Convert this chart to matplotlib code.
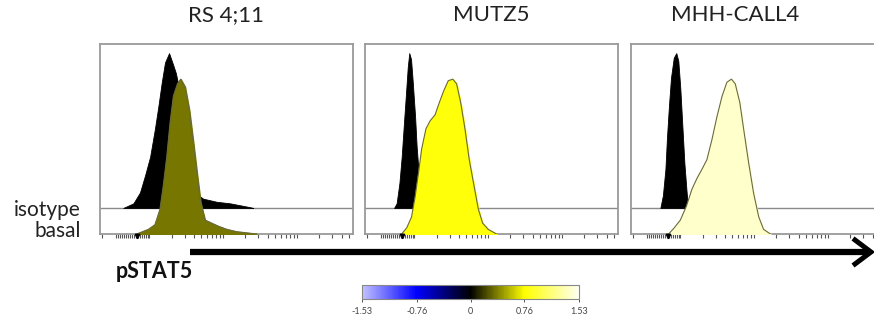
import numpy as np
import matplotlib
matplotlib.use("Agg")
import matplotlib.pyplot as plt
from matplotlib.colors import LinearSegmentedColormap, Normalize
from matplotlib.cm import ScalarMappable
from matplotlib.lines import Line2D

plt.rcParams['font.family'] = ['Lato', 'DejaVu Sans']

# ---- data: pSTAT5 histograms (channel 0-1000, counts as % of mode) ----
cell_lines = ["RS 4;11", "MUTZ5", "MHH-CALL4"]

iso_rs_ch = [92, 132, 158, 178, 198, 217, 231, 244, 257, 273, 290, 300, 310, 323, 343, 362, 382, 408, 461, 514, 593, 606]
iso_rs_pct = [0, 3, 10, 21, 33, 51, 66, 81, 94, 100, 92, 87, 79, 59, 36, 18, 9, 6, 4, 3, 0.5, 0]
bas_rs_ch = [145, 191, 217, 237, 250, 264, 277, 290, 306, 319, 336, 353, 369, 385, 398, 415, 441, 468, 501, 540, 619]
bas_rs_pct = [0, 3, 6, 16, 31, 50, 72, 89, 97, 100, 95, 80, 59, 37, 20, 9, 7, 5, 3, 1.5, 0]

iso_mu_ch = [115, 125, 136, 145, 154, 162, 169, 175, 182, 188, 198, 204, 211, 220, 231]
iso_mu_pct = [0, 3, 16, 33, 55, 74, 91, 100, 96, 83, 59, 40, 25, 10, 0]
bas_mu_ch = [145, 165, 184, 198, 211, 224, 241, 257, 277, 294, 310, 329, 347, 362, 378, 395, 412, 431, 448, 465, 487, 520]
bas_mu_pct = [0, 4, 11, 24, 39, 55, 68, 73, 77, 85, 92, 99, 100, 97, 85, 68, 48, 31, 16, 7, 3, 0]

iso_mh_ch = [116, 126, 136, 142, 150, 158, 169, 179, 187, 195, 203, 211, 219, 225]
iso_mh_pct = [0, 8, 25, 45, 66, 84, 97, 100, 95, 77, 53, 29, 12, 0]
bas_mh_ch = [149, 171, 195, 219, 241, 261, 281, 300, 320, 340, 360, 379, 397, 412, 430, 445, 465, 485, 505, 524, 551]
bas_mh_pct = [0, 4, 9, 18, 29, 36, 42, 48, 61, 76, 89, 98, 100, 97, 85, 68, 46, 26, 11, 3, 0]

isotype = [(iso_rs_ch, iso_rs_pct), (iso_mu_ch, iso_mu_pct), (iso_mh_ch, iso_mh_pct)]
basal = [(bas_rs_ch, bas_rs_pct), (bas_mu_ch, bas_mu_pct), (bas_mh_ch, bas_mh_pct)]

# fold change of basal pSTAT5 (colour scale values)
fold_change = [0.35, 0.80, 1.40]
cbar_ticks = [-1.53, -0.76, 0, 0.76, 1.53]

heat = LinearSegmentedColormap.from_list(
    "heat", [(0.0, "#c2c2ff"), (0.25, "#0000ff"), (0.5, "#000000"),
             (0.75, "#ffff00"), (1.0, "#fffff2")])
norm = Normalize(vmin=-1.53, vmax=1.53)

W, H = 874, 320
fig = plt.figure(figsize=(W / 100, H / 100), dpi=100)


def fx(px):
    return px / W


def fy(py):
    return 1 - py / H


panel_left = [100, 365, 631]
panel_w, top, bottom = 253, 44, 234
iso_base = 0.137
mode_h = 0.815

decades = [195, 487, 779]
dec_w = 292
log_ticks = [d + dec_w * np.log10(k) for d in decades for k in range(1, 10)]
log_ticks = [t for t in log_ticks if t <= 1000]
lin_ticks = [7] + list(range(62, 194, 8))

for i, name in enumerate(cell_lines):
    ax = fig.add_axes([fx(panel_left[i]), fy(bottom), fx(panel_w), (bottom - top) / H])
    ax.set_xlim(0, 1000)
    ax.set_ylim(0, 1)
    for s in ax.spines.values():
        s.set_color("#9a9a9a")
        s.set_linewidth(1.3)
    ax.set_yticks([])
    ax.set_xticks(lin_ticks + log_ticks)
    ax.set_xticklabels([])
    ax.tick_params(axis="x", direction="out", length=3, width=0.8, color="#555555")

    ax.axhline(iso_base, color="#8a8a8a", lw=1.0, zorder=1)

    ich, ipct = isotype[i]
    iy = iso_base + np.array(ipct) / 100 * mode_h
    ax.fill_between(ich, iso_base, iy, color="black", lw=0.6, edgecolor="black", zorder=2)

    bch, bpct = basal[i]
    by = np.array(bpct) / 100 * mode_h
    ax.fill_between(bch, 0, by, color=heat(norm(fold_change[i])), zorder=3)
    ax.plot(bch, by, color="#6a6a3c", lw=0.8, zorder=4)

    # gate marker near zero
    ax.plot([145], [-0.012], marker="v", ms=3.2, color="black", clip_on=False, zorder=5)

title_x = [226, 491, 735]
for name, tx in zip(cell_lines, title_x):
    fig.text(fx(tx), fy(15), name, ha="center", va="center", fontsize=16, color="#222222")

fig.text(fx(81), fy(210), "isotype", ha="right", va="center", fontsize=15, color="#222222")
fig.text(fx(81), fy(231), "basal", ha="right", va="center", fontsize=15, color="#222222")
fig.text(fx(116), fy(272), "pSTAT5", ha="left", va="center", fontsize=15.5,
         fontweight="bold", color="#111111")

# signalling-direction arrow
fig.add_artist(Line2D([fx(190), fx(868)], [fy(252), fy(252)], color="black", lw=4.5,
                      solid_capstyle="butt"))
fig.add_artist(Line2D([fx(853), fx(871), fx(853)], [fy(238.5), fy(252), fy(265.5)],
                      color="black", lw=3.6, solid_joinstyle="miter", solid_capstyle="butt"))

# colour scale
cax = fig.add_axes([fx(362), fy(299), fx(217), 14 / H])
sm = ScalarMappable(norm=norm, cmap=heat)
cb = fig.colorbar(sm, cax=cax, orientation="horizontal", ticks=cbar_ticks)
cb.outline.set_edgecolor("#888888")
cb.outline.set_linewidth(0.8)
cb.ax.set_xticklabels([f"{t:g}" for t in cbar_ticks])
cb.ax.tick_params(labelsize=6.5, length=2.5, width=0.7, color="#555555", labelcolor="#444444", pad=3)

fig.savefig("out.png", dpi=100)
